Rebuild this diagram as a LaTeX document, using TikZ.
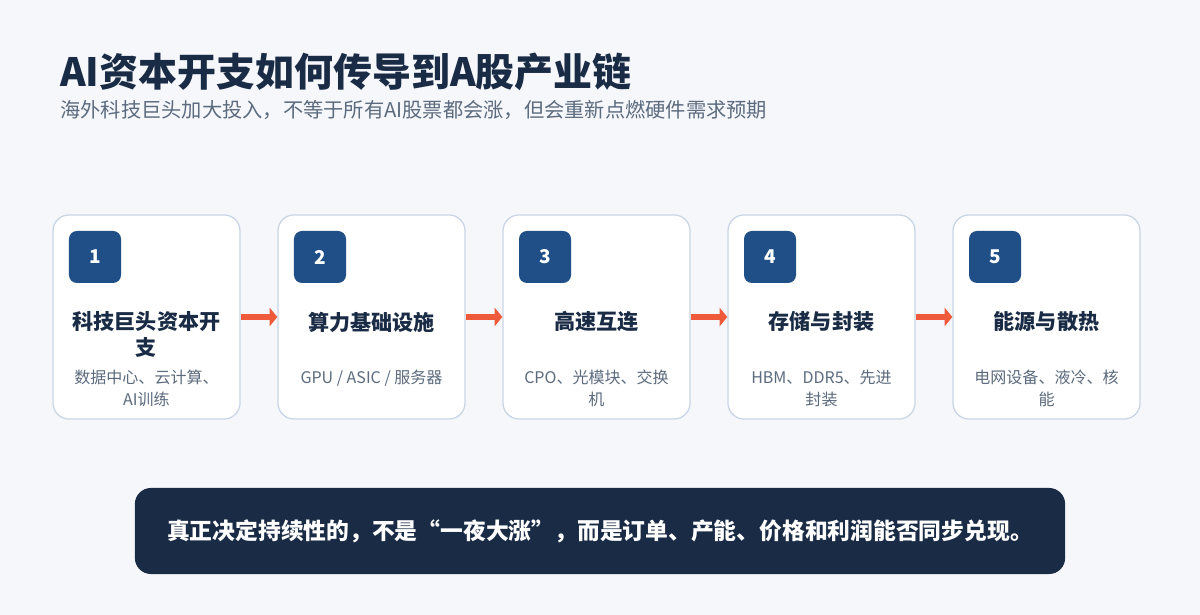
\documentclass[tikz,border=0pt]{standalone}
\usepackage{fontspec}
\setmainfont{Noto Sans CJK SC}
\usetikzlibrary{arrows.meta,positioning}

\definecolor{fond}{HTML}{F5F7FB}
\definecolor{bordure}{HTML}{C9D5E4}
\definecolor{pastillebleu}{HTML}{1F4F86}
\definecolor{marine}{HTML}{1A2B45}
\definecolor{grisbleu}{HTML}{5C6B7E}
\definecolor{rougefleche}{HTML}{EE5A3A}

\tikzset{
  carte/.style={draw=bordure, line width=0.9pt, fill=white, rounded corners=0.4cm,
    minimum width=4.675cm, minimum height=5.1cm},
  pastille/.style={fill=pastillebleu, rounded corners=0.2cm, minimum size=1.3cm,
    text=white, font=\bfseries\fontsize{13.5}{16}\selectfont},
  titre/.style={anchor=north, align=center, text=marine, inner sep=0pt,
    font=\bfseries\fontsize{15}{18.5}\selectfont},
  detail/.style={anchor=north, align=center, text=grisbleu, inner sep=0pt,
    font=\fontsize{11.4}{15.6}\selectfont},
  fleche/.style={-{Triangle[length=5.5pt,width=13pt]}, line width=4pt, draw=rougefleche}
}

\begin{document}
\begin{tikzpicture}[x=0.025cm, y=0.025cm]

% Fond
\fill[fond] (0,0) rectangle (1200,615);
\useasboundingbox (0,0) rectangle (1200,615);

% En-tete
\node[anchor=west, inner sep=0pt, text=marine, font=\bfseries\fontsize{27.7}{32}\selectfont]
  (entete) at (60,543) {AI资本开支如何传导到A股产业链};
\node[anchor=west, inner sep=0pt, text=grisbleu, font=\fontsize{14.4}{17}\selectfont]
  (soustitre) at (60,505) {海外科技巨头加大投入，不等于所有AI股票都会涨，但会重新点燃硬件需求预期};

% Etapes
\foreach \i/\t/\d in {
  1/{科技巨头资本开\\支}/{数据中心、云计算、\\AI训练},
  2/{算力基础设施}/{GPU / ASIC / 服务器},
  3/{高速互连}/{CPO、光模块、交换\\机},
  4/{存储与封装}/{HBM、DDR5、先进\\封装},
  5/{能源与散热}/{电网设备、液冷、核\\能}}{
  \node[carte] (carte\i) at ({146.5+(\i-1)*225},298) {};
  \node[pastille] (num\i) at ({95+(\i-1)*225},358) {\i};
  \node[titre] (titre\i) at ({146.5+(\i-1)*225},303.5) {\t};
  \node[detail] (detail\i) at ({146.5+(\i-1)*225},245) {\d};
}

% Fleches
\foreach \i [count=\j from 2] in {1,...,4}
  \draw[fleche] (carte\i.east) -- (carte\j.west);

% Message
\node[fill=marine, rounded corners=0.4cm, minimum width=23.25cm, minimum height=2.15cm,
  text=white, font=\bfseries\fontsize{16.2}{19}\selectfont]
  (message) at (600,84) {真正决定持续性的，不是“一夜大涨”，而是订单、产能、价格和利润能否同步兑现。};

\end{tikzpicture}
\end{document}
